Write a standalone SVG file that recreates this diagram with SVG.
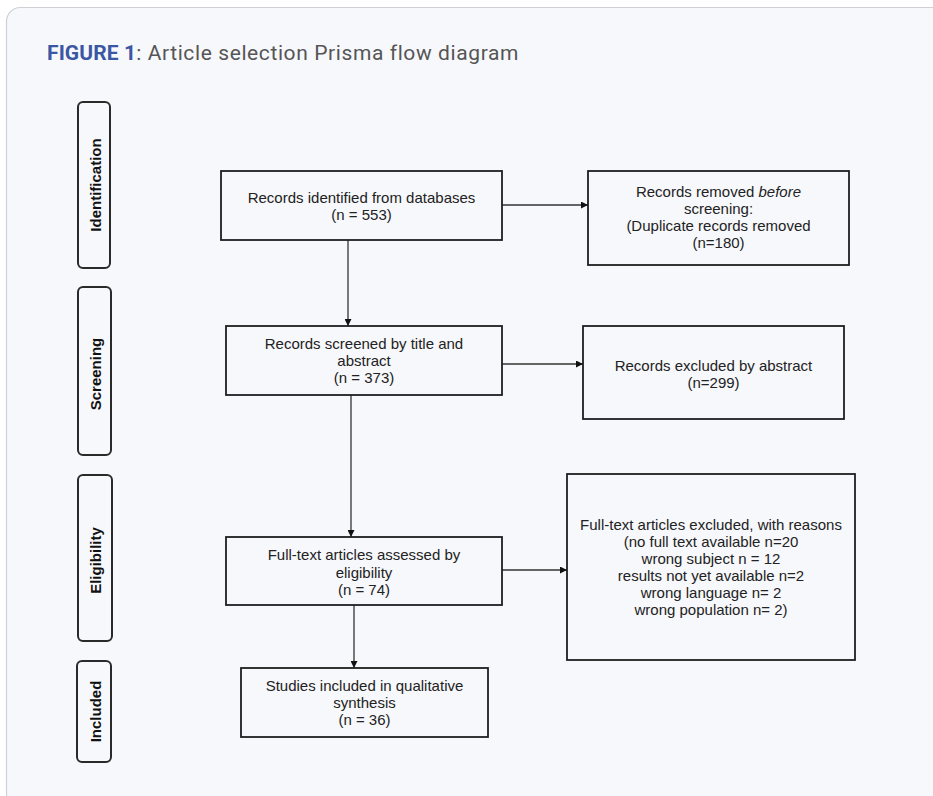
<svg xmlns="http://www.w3.org/2000/svg" width="933" height="796" viewBox="0 0 933 796">
<defs>
<style>
.card{fill:#f7f8fc;stroke:#cfd0d6;stroke-width:1.2}
.box{fill:none;stroke:#1e1e1e;stroke-width:1.8}
.phase{fill:none;stroke:#2a2a2a;stroke-width:2}
.t{font-family:"Liberation Sans",Arial,sans-serif;font-size:15px;fill:#222;text-anchor:middle}
.p{font-family:"Liberation Sans",Arial,sans-serif;font-size:15px;font-weight:bold;fill:#111;text-anchor:middle}
.c{stroke:#333;stroke-width:1.3;fill:none}
</style>
<marker id="ah" viewBox="0 0 10 10" refX="10" refY="5" markerWidth="7" markerHeight="7" orient="auto" markerUnits="userSpaceOnUse">
<path d="M0,0 L10,5 L0,10 z" fill="#111"/>
</marker>
</defs>
<rect class="card" x="6.5" y="7.5" width="940" height="800" rx="14"/>
<text x="47" y="60" font-family="Roboto,'Liberation Sans',sans-serif" font-size="21" fill="#555" letter-spacing="0.6"><tspan font-weight="bold" fill="#3b57a3" letter-spacing="0.1">FIGURE 1</tspan>: Article selection Prisma flow diagram</text>

<g id="phase-identification"><rect class="phase" x="78" y="102" width="32" height="166" rx="5"/><text class="p" transform="translate(101,185) rotate(-90)">Identification</text></g>
<g id="phase-screening"><rect class="phase" x="78" y="287" width="33" height="168" rx="5"/><text class="p" transform="translate(100.5,374) rotate(-90)">Screening</text></g>
<g id="phase-eligibility"><rect class="phase" x="78" y="475" width="34" height="166" rx="5"/><text class="p" transform="translate(101,560.5) rotate(-90)">Eligibility</text></g>
<g id="phase-included"><rect class="phase" x="77" y="661" width="34" height="101" rx="5"/><text class="p" transform="translate(100.5,711.5) rotate(-90)">Included</text></g>

<g id="connectors">
<line class="c" x1="502" y1="205" x2="588" y2="205" marker-end="url(#ah)"/>
<line class="c" x1="348" y1="240" x2="348" y2="326" marker-end="url(#ah)"/>
<line class="c" x1="502" y1="364" x2="583" y2="364" marker-end="url(#ah)"/>
<line class="c" x1="351" y1="395" x2="351" y2="537" marker-end="url(#ah)"/>
<line class="c" x1="502" y1="570" x2="567" y2="570" marker-end="url(#ah)"/>
<line class="c" x1="354" y1="605" x2="354" y2="668" marker-end="url(#ah)"/>
</g>

<g id="identified"><rect class="box" x="221" y="171" width="281" height="69"/>
<text class="t" x="361.5" y="203">Records identified from databases</text>
<text class="t" x="361.5" y="220">(n = 553)</text></g>

<g id="removed"><rect class="box" x="588" y="171" width="261" height="94"/>
<text class="t" x="718.5" y="197">Records removed <tspan font-style="italic">before</tspan></text>
<text class="t" x="718.5" y="214">screening:</text>
<text class="t" x="718.5" y="231">(Duplicate records removed</text>
<text class="t" x="718.5" y="248">(n=180)</text></g>

<g id="screened"><rect class="box" x="226" y="326" width="276" height="69"/>
<text class="t" x="364" y="349">Records screened by title and</text>
<text class="t" x="364" y="366">abstract</text>
<text class="t" x="364" y="383">(n = 373)</text></g>

<g id="excluded-abstract"><rect class="box" x="583" y="326" width="261" height="93"/>
<text class="t" x="713.5" y="371">Records excluded by abstract</text>
<text class="t" x="713.5" y="388">(n=299)</text></g>

<g id="assessed"><rect class="box" x="226" y="537" width="276" height="68"/>
<text class="t" x="364" y="560">Full-text articles assessed by</text>
<text class="t" x="364" y="578">eligibility</text>
<text class="t" x="364" y="595">(n = 74)</text></g>

<g id="excluded-fulltext"><rect class="box" x="567" y="474" width="288" height="186"/>
<text class="t" x="711" y="530">Full-text articles excluded, with reasons</text>
<text class="t" x="711" y="547">(no full text available n=20</text>
<text class="t" x="711" y="564">wrong subject n = 12</text>
<text class="t" x="711" y="581">results not yet available n=2</text>
<text class="t" x="711" y="598">wrong language n= 2</text>
<text class="t" x="711" y="615">wrong population n= 2)</text></g>

<g id="included"><rect class="box" x="241" y="668" width="247" height="69"/>
<text class="t" x="364.5" y="691">Studies included in qualitative</text>
<text class="t" x="364.5" y="708">synthesis</text>
<text class="t" x="364.5" y="725">(n = 36)</text></g>
</svg>
